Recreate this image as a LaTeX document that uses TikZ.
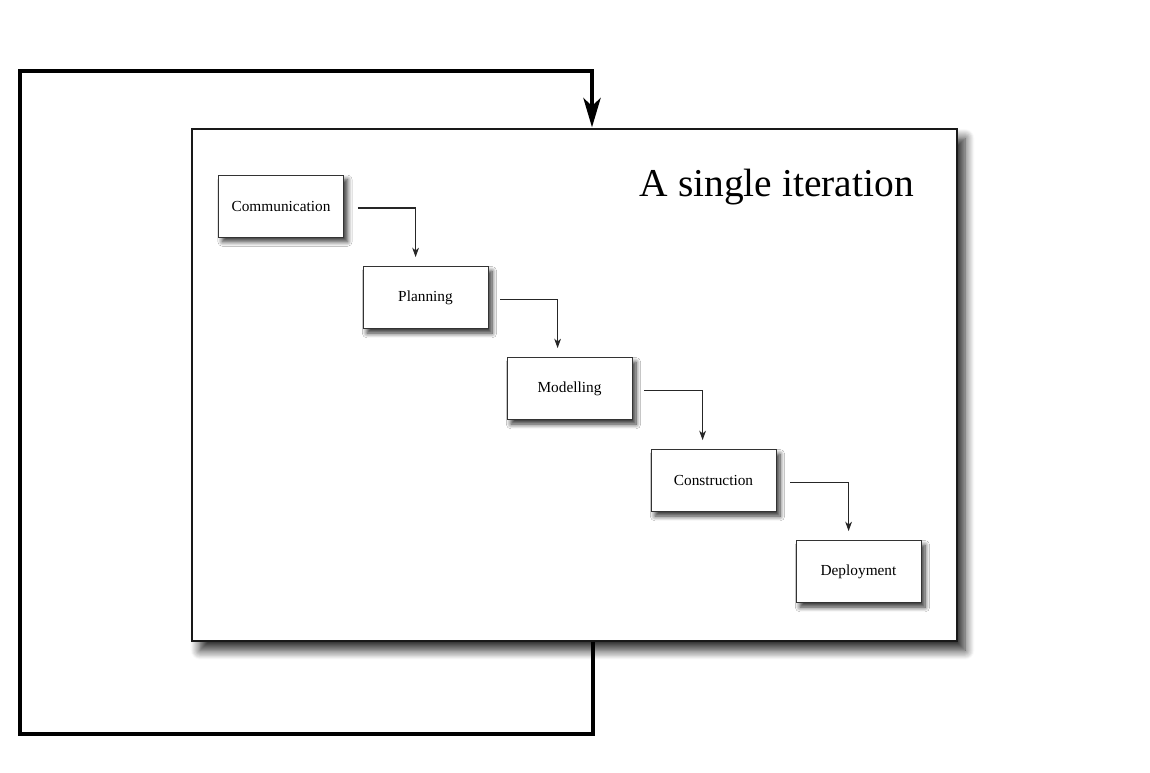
\documentclass[tikz,border=0pt]{standalone}
\usepackage{fontspec}
\setmainfont{Liberation Serif}
\usetikzlibrary{arrows.meta,calc,shadows.blur}
\begin{document}
\begin{tikzpicture}[x=0.75pt,y=-0.75pt,
  frame/.style={draw=black!90,line width=1.1pt,fill=white,minimum width=765*0.75pt,minimum height=512*0.75pt,inner sep=0pt,
    blur shadow={shadow xshift=6pt,shadow yshift=-7pt,shadow blur radius=7pt,shadow blur steps=10,shadow opacity=85}},
  stage/.style={draw=black!80,line width=0.6pt,fill=white,minimum width=125*0.75pt,minimum height=62*0.75pt,inner sep=0pt,
    font=\fontsize{11.5pt}{13pt}\selectfont,
    blur shadow={shadow xshift=3pt,shadow yshift=-3.5pt,shadow blur radius=3.5pt,shadow blur steps=8,shadow opacity=80}},
  flow/.style={draw=black!85,line width=0.8pt,-{Stealth[length=7pt,width=5pt,inset=2pt]}},
  loopline/.style={draw=black,line width=2.3pt,-{Stealth[length=22pt,width=13pt,inset=6pt]}},
  title/.style={font=\fontsize{29.6pt}{34pt}\selectfont,inner sep=0pt}]
\useasboundingbox (0,0) rectangle (1150,772);
\node[frame] (frame) at (574.5,385) {};
\node[title,anchor=base east] (ttl) at (914,196) {A single iteration};
\node[stage] (comm) at (281,206) {Communication};
\node[stage] (plan) at (425.5,297.5) {Planning};
\node[stage] (model) at (569.5,388.5) {Modelling};
\node[stage] (constr) at (713.5,480.5) {Construction};
\node[stage] (deploy) at (858.5,571.5) {Deployment};
\draw[flow] ($(comm.east)+(14,2)$) -| ($(plan.north west)+(53,-9)$);
\draw[flow] ($(plan.east)+(12,2)$) -| ($(model.north west)+(51,-9)$);
\draw[flow] ($(model.east)+(12,2)$) -| ($(constr.north west)+(52,-9)$);
\draw[flow] ($(constr.east)+(14,2)$) -| ($(deploy.north west)+(53,-9)$);
\coordinate (lb) at (593,734);
\coordinate (lt) at (20,71);
\draw[loopline] (frame.south -| lb) -- (lb) -| (lt) -| ($(frame.north)+(17.5,-1)$);
\end{tikzpicture}
\end{document}
